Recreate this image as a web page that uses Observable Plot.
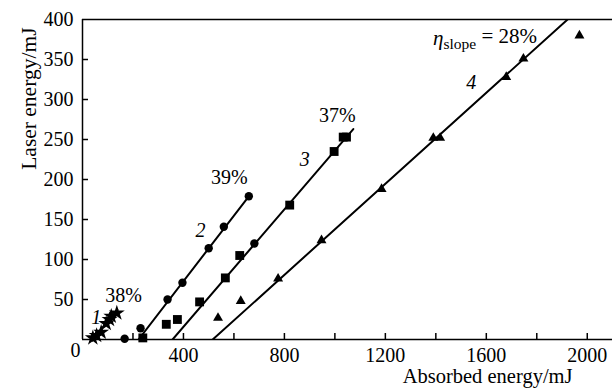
<!DOCTYPE html>
<html>
<head>
<meta charset="utf-8">
<script src="https://cdn.jsdelivr.net/npm/d3@7"></script>
<script src="https://cdn.jsdelivr.net/npm/@observablehq/plot@0.6"></script>
<style>
  html, body { margin: 0; padding: 0; background: #fff; }
  svg text { font-family: "Liberation Serif", "Times New Roman", serif !important; font-variant: normal !important; }
</style>
</head>
<body>
<div id="chart"></div>
<script>
// ---- Data ----
// curve 1: stars  [absorbed mJ, laser mJ]
const series1 = [[41, 2], [56, 5], [74, 9], [94, 20], [107, 25], [114, 29], [136, 33]];
// curve 2: circles
const series2 = [[167, 1], [230, 14], [337, 50], [396, 71], [500, 114], [560, 141], [659, 179], [681, 120]];
// curve 3: squares
const series3 = [[239, 2], [332, 19], [376, 25], [464, 47], [566, 77], [623, 105], [821, 168], [997, 235], [1033, 253], [1046, 253]];
// curve 4: triangles
const series4 = [[537, 27], [627, 48], [775, 76], [947, 124], [1185, 188], [1390, 252], [1417, 252], [1679, 328], [1747, 351], [1969, 380]];

// linear fits (end points)
const fit1 = [[40, 0], [138, 37]];
const fit2 = [[222, 0], [659, 179]];
const fit3 = [[357, 0], [1073, 263]];
const fit4 = [[516, 0], [1922, 400]];

// slope-efficiency labels
const slopeLabels = [
  {x: 163, y: 55, text: "38%"},
  {x: 582, y: 203, text: "39%"},
  {x: 1010, y: 280, text: "37%"}
];
const slopeNote = [{x: 1389, y: 377, text: "η_slope = 28%"}];
// curve numbers
const curveNumbers = [
  {x: 54, y: 28, text: "1"},
  {x: 468, y: 136, text: "2"},
  {x: 881, y: 225, text: "3"},
  {x: 1540, y: 321, text: "4"}
];

// axes
const xDomain = [0, 2100];
const yDomain = [0, 400];
const xMinorTicks = [200, 400, 600, 800, 1000, 1200, 1400, 1600, 1800, 2000];
const xLabelTicks = [400, 800, 1200, 1600, 2000];
const yMinorTicks = [50, 100, 150, 200, 250, 300, 350];
const yLabelTicks = [50, 100, 150, 200, 250, 300, 350, 400];
const cornerLabel = ["0"];
const xTitle = ["Absorbed energy/mJ"];
const yTitle = ["Laser energy/mJ"];

const FONT = "'Liberation Serif', 'Times New Roman', serif";

// build tables
const fits = [
  ...fit1.map(([x, y]) => ({s: 1, x, y})),
  ...fit2.map(([x, y]) => ({s: 2, x, y})),
  ...fit3.map(([x, y]) => ({s: 3, x, y})),
  ...fit4.map(([x, y]) => ({s: 4, x, y}))
];
const px = d => d[0], py = d => d[1];
const plain = d => String(d);

const chart = Plot.plot({
  width: 612,
  height: 389,
  marginLeft: 82,
  marginRight: 0,
  marginTop: 19,
  marginBottom: 50,
  x: {domain: xDomain},
  y: {domain: yDomain},
  style: {
    fontFamily: FONT,
    fontSize: "20px",
    color: "black",
    background: "white",
    overflow: "visible"
  },
  marks: [
    // frame
    Plot.ruleY(yDomain, {stroke: "black", strokeWidth: 1.5}),
    Plot.ruleX([xDomain[0]], {stroke: "black", strokeWidth: 1.5}),
    // inward ticks
    Plot.axisX(xMinorTicks, {anchor: "bottom", tickSize: 6, dy: -6, tickFormat: () => "", label: null, strokeWidth: 1.5}),
    Plot.axisY(yMinorTicks, {anchor: "left", tickSize: 6, dx: 6, tickFormat: () => "", label: null, strokeWidth: 1.5}),
    // tick labels
    Plot.axisX(xLabelTicks, {anchor: "bottom", tickSize: 0, tickPadding: 8, tickFormat: plain, label: null, fontSize: 20, fontFamily: FONT}),
    Plot.axisY(yLabelTicks, {anchor: "left", tickSize: 0, tickPadding: 9, tickFormat: plain, label: null, fontSize: 20, fontFamily: FONT}),
    Plot.text(cornerLabel, {frameAnchor: "bottom-left", text: d => d, dx: -12, dy: 17, fontSize: 20, fontFamily: FONT}),
    // axis titles
    Plot.text(xTitle, {frameAnchor: "bottom-right", text: d => d, textAnchor: "end", dx: -40, dy: 43.5, fontSize: 20.5, fontFamily: FONT}),
    Plot.text(yTitle, {frameAnchor: "top-left", text: d => d, rotate: -90, textAnchor: "end", dx: -62, dy: 8, fontSize: 21.5, fontFamily: FONT}),
    // fit lines
    Plot.line(fits, {x: "x", y: "y", z: "s", stroke: "black", strokeWidth: 2, clip: true}),
    // data points
    Plot.dot(series1, {x: px, y: py, symbol: "star", fill: "black", r: 5}),
    Plot.dot(series2, {x: px, y: py, symbol: "circle", fill: "black", r: 4.2}),
    Plot.dot(series3, {x: px, y: py, symbol: "square", fill: "black", r: 5}),
    Plot.dot(series4, {x: px, y: py, symbol: "triangle", fill: "black", r: 3.7}),
    // annotations
    Plot.text(slopeLabels, {x: "x", y: "y", text: "text", fontSize: 20, fontFamily: FONT}),
    Plot.text(curveNumbers, {x: "x", y: "y", text: "text", fontSize: 20, fontStyle: "italic", fontFamily: FONT}),
    Plot.text(slopeNote, {x: "x", y: "y", text: "text", textAnchor: "start", fontSize: 21, fontFamily: FONT})
  ]
});

document.getElementById("chart").appendChild(chart);

// render subscript for η_slope
d3.select(chart).selectAll("text").filter(function () {
  return this.textContent === "η_slope = 28%";
}).each(function () {
  const t = d3.select(this);
  t.text(null);
  t.append("tspan").attr("font-style", "italic").text("η");
  t.append("tspan").attr("font-size", 15.5).attr("dy", "0.25em").text("slope");
  t.append("tspan").attr("dy", "-0.25em").text(" = 28%");
});
</script>
</body>
</html>
